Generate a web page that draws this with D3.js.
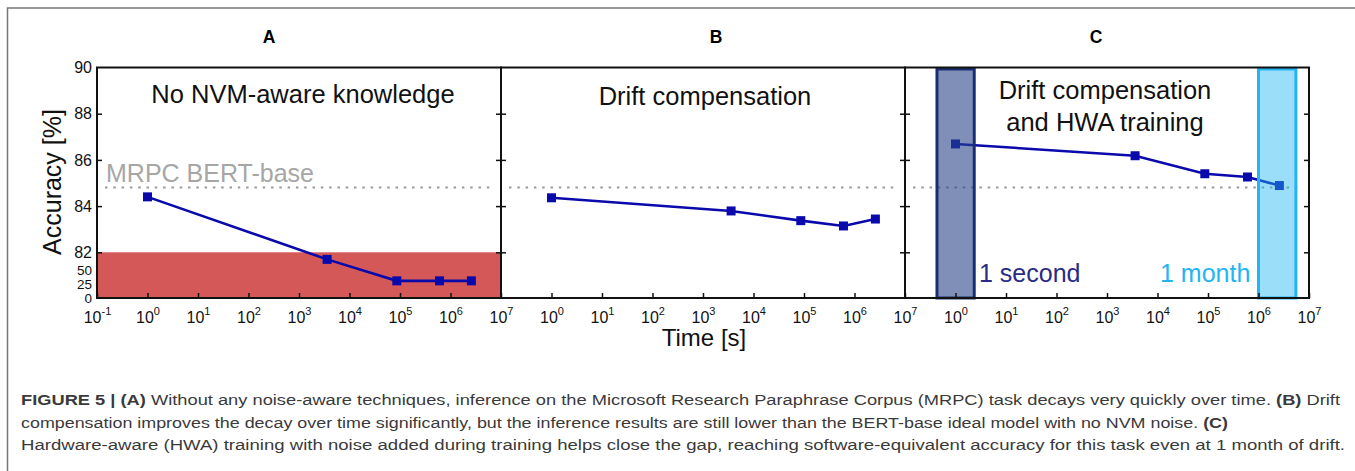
<!DOCTYPE html>
<html>
<head>
<meta charset="utf-8">
<script src="https://cdn.jsdelivr.net/npm/d3@7"></script>
<style>
  body { margin: 0; background: #fff; }
  svg { display: block; font-family: "Liberation Sans", Arial, sans-serif; }
</style>
</head>
<body>
<svg id="fig" width="1355" height="471"></svg>
<script>

// ---- data ----
var timesSec = [1, 3600, 86400, 604800, 2592000];        // 1 s, 1 h, 1 day, 1 week, 1 month
var accNoAware = [84.40, 69.3, 30.8, 30.8, 30.8];
var accDriftComp = [84.36, 83.79, 83.37, 83.14, 83.44];
var accHwa = [86.69, 86.18, 85.40, 85.26, 84.89];
var bertBaseline = 84.8;
var failBand = [0, 82];

var yTicks = [0, 25, 50, 82, 84, 86, 88, 90];
var yInnerTicks = [82, 84, 86, 88];
var xTickExps = [-1, 0, 1, 2, 3, 4, 5, 6, 7];

var panelLetters = ["A", "B", "C"];
var panelTitles = [["No NVM-aware knowledge"], ["Drift compensation"], ["Drift compensation", "and HWA training"]];
var panelSeries = [accNoAware, accDriftComp, accHwa];

var windowLabels = ["1 second", "1 month"];
var windowRanges = [[0.43, 2.35], [1.0e6, 5.5e6]];

var captionLines = [
  [["FIGURE 5 | (A)", true], [" Without any noise-aware techniques, inference on the Microsoft Research Paraphrase Corpus (MRPC) task decays very quickly over time. ", false], ["(B)", true], [" Drift", false]],
  [["compensation improves the decay over time significantly, but the inference results are still lower than the BERT-base ideal model with no NVM noise. ", false], ["(C)", true]],
  [["Hardware-aware (HWA) training with noise added during training helps close the gap, reaching software-equivalent accuracy for this task even at 1 month of drift.", false]]
];

// ---- layout ----
var svg = d3.select("#fig");
var panelW = 404, plotTop = 67.5, plotBottom = 298;
var panelX0 = [97, 501, 905];
var lineColor = "#0a0aac";

// broken y axis: 0..82 squeezed, 82..90 stretched
var y = d3.scaleLinear().domain([0, 82, 90]).range([plotBottom, 252.3, plotTop]);

// outer figure frame (top + left only)
svg.append("path")
  .attr("d", "M7.5,471 L7.5,8 L1355,8")
  .attr("fill", "none").attr("stroke", "#777").attr("stroke-width", 1.5);

panelX0.forEach(function(x0, i) {

  var g = svg.append("g").attr("class", "panel panel-" + panelLetters[i]);
  var x = d3.scaleLog().domain([1e-1, 1e7]).range([x0, x0 + panelW]);

  // red "failure" band on panel A only
  if (i == 0) {
    g.append("rect")
      .attr("x", x0).attr("width", panelW)
      .attr("y", y(failBand[1])).attr("height", y(failBand[0]) - y(failBand[1]))
      .attr("fill", "#d45858");
  }

  // BERT-base reference line
  g.append("line")
    .attr("x1", x0 + 8).attr("x2", x0 + panelW - 6)
    .attr("y1", y(bertBaseline)).attr("y2", y(bertBaseline))
    .attr("stroke", "#9a9a9a").attr("stroke-width", 2)
    .attr("stroke-dasharray", "2.5,5.8");

  if (i == 0) {
    g.append("text")
      .attr("x", 106).attr("y", 181.5)
      .attr("font-size", 25).attr("fill", "#a6a6a6")
      .text("MRPC BERT-base");
  }

  // data line + square markers
  var pts = timesSec.map(function(t, k) { return [t, panelSeries[i][k]]; });
  g.append("path")
    .attr("d", d3.line().x(function(d) { return x(d[0]); }).y(function(d) { return y(d[1]); })(pts))
    .attr("fill", "none").attr("stroke", lineColor).attr("stroke-width", 2.6);
  g.selectAll("rect.mark").data(pts).enter().append("rect")
    .attr("class", "mark")
    .attr("x", function(d) { return x(d[0]) - 4.5; })
    .attr("y", function(d) { return y(d[1]) - 4.5; })
    .attr("width", 9).attr("height", 9)
    .attr("fill", lineColor);

  // time windows on panel C, drawn over the data
  if (i == 2) {
    var winFill = ["#2a4587", "#22b5f2"], winOp = [0.6, 0.45], winStroke = ["#1b2e73", "#22b5f2"];
    windowRanges.forEach(function(r, k) {
      g.append("rect")
        .attr("x", x(r[0])).attr("width", x(r[1]) - x(r[0]))
        .attr("y", plotTop + 1.5).attr("height", plotBottom - plotTop - 1.5)
        .attr("fill", winFill[k]).attr("fill-opacity", winOp[k])
        .attr("stroke", winStroke[k]).attr("stroke-width", 3);
    });
    g.append("text").attr("x", 979).attr("y", 281.5)
      .attr("font-size", 25).attr("fill", "#2b2b85").text(windowLabels[0]);
    g.append("text").attr("x", 1160).attr("y", 281.5)
      .attr("font-size", 25).attr("fill", "#22b5f2").text(windowLabels[1]);
  }

  // panel titles
  var cx = [303, 705, 1105][i];
  var baseY = [[103], [105], [99, 130.5]][i];
  panelTitles[i].forEach(function(t, k) {
    g.append("text")
      .attr("x", cx).attr("y", baseY[k])
      .attr("text-anchor", "middle").attr("font-size", 25.5).attr("fill", "#111")
      .text(t);
  });

  // panel letter above
  g.append("text")
    .attr("x", [269, 716, 1096][i]).attr("y", 43)
    .attr("text-anchor", "middle").attr("font-size", 17.5).attr("font-weight", "bold")
    .text(panelLetters[i]);

  // bottom axis, inward ticks, 10^n labels
  var xAxis = g.append("g")
    .attr("transform", "translate(0," + plotBottom + ")")
    .call(d3.axisBottom(x)
      .tickValues(xTickExps.filter(function(e) { return i == 0 || e > -1; }).map(function(e) { return Math.pow(10, e); }))
      .tickSize(-5));
  xAxis.select(".domain").remove();
  xAxis.selectAll(".tick line").attr("stroke", "#111").attr("stroke-width", 1.5);
  xAxis.selectAll(".tick text").each(function(d) {
    var t = d3.select(this).text(null).attr("y", 25).attr("dy", null)
      .attr("font-size", 16).attr("font-family", "Liberation Sans, Arial, sans-serif").attr("fill", "#111");
    var e = Math.round(Math.log10(d));
    t.append("tspan").text("10");
    t.append("tspan").attr("dy", -8).attr("font-size", 11).text(e);
  });

  // left / right ticks
  var yl = g.append("g").attr("transform", "translate(" + x0 + ",0)")
    .call(d3.axisLeft(y).tickValues(i == 0 ? yTicks : yInnerTicks).tickSize(-5).tickPadding(5)
      .tickFormat(i == 0 ? d3.format("d") : ""));
  var yr = g.append("g").attr("transform", "translate(" + (x0 + panelW) + ",0)")
    .call(d3.axisRight(y).tickValues(yInnerTicks).tickSize(-5).tickFormat(""));
  [yl, yr].forEach(function(a) {
    a.select(".domain").remove();
    a.selectAll(".tick line").attr("stroke", "#111").attr("stroke-width", 1.5);
    a.selectAll(".tick text").attr("font-size", function(d) { return d < 82 ? 13.5 : 16; })
      .attr("fill", "#111")
      .attr("font-family", "Liberation Sans, Arial, sans-serif");
  });
  if (i == 0) {
    yl.selectAll(".tick").filter(function(d) { return d == 0 || d == 25 || d == 50 || d == 90; })
      .select("line").remove();
  }

  // panel frame
  g.append("rect")
    .attr("x", x0).attr("y", plotTop).attr("width", panelW).attr("height", plotBottom - plotTop)
    .attr("fill", "none").attr("stroke", "#111").attr("stroke-width", 2);
});

// axis titles
svg.append("text")
  .attr("transform", "translate(61,182) rotate(-90)")
  .attr("text-anchor", "middle").attr("font-size", 25).attr("fill", "#111")
  .text("Accuracy [%]");
svg.append("text")
  .attr("x", 704).attr("y", 346)
  .attr("text-anchor", "middle").attr("font-size", 24).attr("fill", "#111")
  .text("Time [s]");

// caption
var capEnds = [1340, 1228, 1345];
captionLines.forEach(function(parts, k) {
  var t = svg.append("text")
    .attr("x", 21).attr("y", 405 + k * 22.5)
    .attr("font-size", 15.5).attr("fill", "#3a3a3a");
  parts.forEach(function(p) {
    t.append("tspan").attr("font-weight", p[1] ? "bold" : null).text(p[0]);
  });
  t.attr("textLength", capEnds[k] - 21).attr("lengthAdjust", "spacingAndGlyphs");
});

</script>
</body>
</html>
